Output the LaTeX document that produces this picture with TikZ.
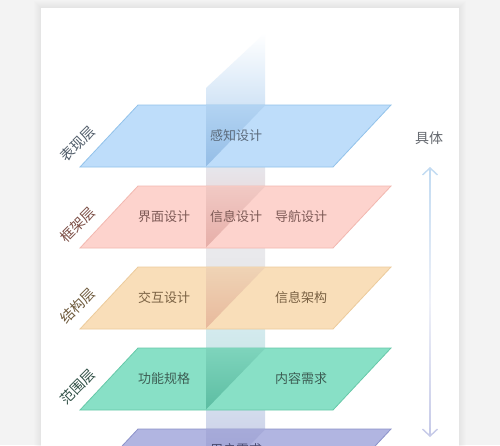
\documentclass[tikz,border=0pt]{standalone}
\usepackage{fontspec}
\setmainfont{Noto Sans CJK SC}
\usetikzlibrary{arrows.meta}
\definecolor{bggray}{HTML}{F3F3F3}
\definecolor{L1}{HTML}{BEDDFA}\definecolor{L1b}{HTML}{92C2EA}
\definecolor{L2}{HTML}{FDD3CD}\definecolor{L2b}{HTML}{F2B8B0}
\definecolor{L3}{HTML}{F9DEB9}\definecolor{L3b}{HTML}{ECCB9C}
\definecolor{L4}{HTML}{88E0C6}\definecolor{L4b}{HTML}{66C8A8}
\definecolor{L5}{HTML}{B1B5E1}\definecolor{L5b}{HTML}{8C92C9}
\definecolor{T1a}{HTML}{B2D3F2}\definecolor{T1b}{HTML}{94BDE6}
\definecolor{T2a}{HTML}{F1C9C4}\definecolor{T2b}{HTML}{E6AEA8}
\definecolor{T3a}{HTML}{EFD3B5}\definecolor{T3b}{HTML}{E8B99C}
\definecolor{T4a}{HTML}{7ED4BC}\definecolor{T4b}{HTML}{5CBDA2}
\definecolor{T5a}{HTML}{A6AAD9}\definecolor{T5b}{HTML}{9A9ED2}
\definecolor{G0}{HTML}{D2E4F6}\definecolor{G0m}{HTML}{EEF4FB}
\definecolor{G1a}{HTML}{E6E6EC}\definecolor{G1b}{HTML}{E8DFE2}
\definecolor{G2a}{HTML}{E9E9EC}\definecolor{G2b}{HTML}{E8E8EB}
\definecolor{G3a}{HTML}{D3EAEE}\definecolor{G3b}{HTML}{CFE8EA}
\definecolor{G4a}{HTML}{D3DCED}\definecolor{G4b}{HTML}{CFD5EA}
\definecolor{X1}{HTML}{5C6B7C}\definecolor{X2}{HTML}{7D5A56}
\definecolor{X3}{HTML}{7A6143}\definecolor{X4}{HTML}{3D5E54}
\definecolor{X5}{HTML}{4B4D72}
\definecolor{S1}{HTML}{4F5B68}\definecolor{S2}{HTML}{7B4D44}
\definecolor{S3}{HTML}{6E5A3C}\definecolor{S4}{HTML}{2F4F45}
\definecolor{arrT}{HTML}{C2DBF2}\definecolor{arrM}{HTML}{EEF0F8}
\definecolor{arrB}{HTML}{C6CAE8}
\definecolor{rgray}{HTML}{666A70}
\tikzset{
  inner/.style={font=\fontsize{13}{15}\selectfont, inner sep=0pt},
  side/.style={font=\fontsize{14}{16}\selectfont, inner sep=0pt, rotate=45},
  tipstyle/.style={line width=1.4pt, -{Straight Barb[length=7pt,width=15pt]}}
}
\begin{document}
\begin{tikzpicture}[x=1pt,y=-1pt]
\useasboundingbox (0,0) rectangle (500,445);
\clip (0,0) rectangle (500,445);
\fill[bggray] (0,0) rectangle (500,445);
\foreach \i in {1,...,7} {\fill[black,opacity=0.007] (41-\i,8-\i) rectangle (459+\i,470);}
\fill[white] (41,8) rectangle (459,470);
% vertical plane above layer 1
\shade[top color=white, middle color=G0m, bottom color=G0] (206,105) -- (206,88) -- (265,33) -- (265,105) -- cycle;
% gaps
\shade[top color=G1a, bottom color=G1b] (206,167) rectangle (265,186);
\shade[top color=G2a, bottom color=G2b] (206,248) rectangle (265,267);
\shade[top color=G3a, bottom color=G3b] (206,329) rectangle (265,348);
\shade[top color=G4a, bottom color=G4b] (206,410) rectangle (265,429);
% layers
\foreach \T/\c/\d/\ta/\tb in {105/L1/L1b/T1a/T1b,186/L2/L2b/T2a/T2b,267/L3/L3b/T3a/T3b,348/L4/L4b/T4a/T4b,429/L5/L5b/T5a/T5b} {
  \filldraw[fill=\c, draw=\d, line width=0.8pt] (138,\T) -- (391,\T) -- (333,\T+62) -- (80,\T+62) -- cycle;
  \shade[top color=\ta, bottom color=\tb] (206,\T+0.5) -- (265,\T+0.5) -- (206,\T+61.5) -- cycle;
}
% layer texts
\node[inner, text=X1] (a1) at (236,136) {感知设计};
\node[inner, text=X2] (b1) at (164,217) {界面设计};
\node[inner, text=X2] (b2) at (236,217) {信息设计};
\node[inner, text=X2] (b3) at (301,217) {导航设计};
\node[inner, text=X3] (c1) at (164,298) {交互设计};
\node[inner, text=X3] (c2) at (301,298) {信息架构};
\node[inner, text=X4] (d1) at (164,379) {功能规格};
\node[inner, text=X4] (d2) at (301,379) {内容需求};
\node[inner, text=X5] (e1) at (236,450) {用户需求};
% side labels
\node[side, text=S1] (s1) at (78,144) {表现层};
\node[side, text=S2] (s2) at (78,225) {框架层};
\node[side, text=S3] (s3) at (78,306) {结构层};
\node[side, text=S4] (s4) at (78,387) {范围层};
% right arrow
\node[font=\fontsize{14}{16}\selectfont, inner sep=0pt, text=rgray] (r1) at (429,138) {具体};
\coordinate (ta) at (430,167);
\coordinate (ta1) at (430,176);
\coordinate (ba) at (430,437);
\coordinate (ba1) at (430,428);
\shade[top color=arrT, bottom color=arrB, middle color=arrM] (429.3,169) rectangle (430.7,435);
\draw[arrT, tipstyle] (ta1) -- (ta);
\draw[arrB, tipstyle] (ba1) -- (ba);
\end{tikzpicture}
\end{document}
